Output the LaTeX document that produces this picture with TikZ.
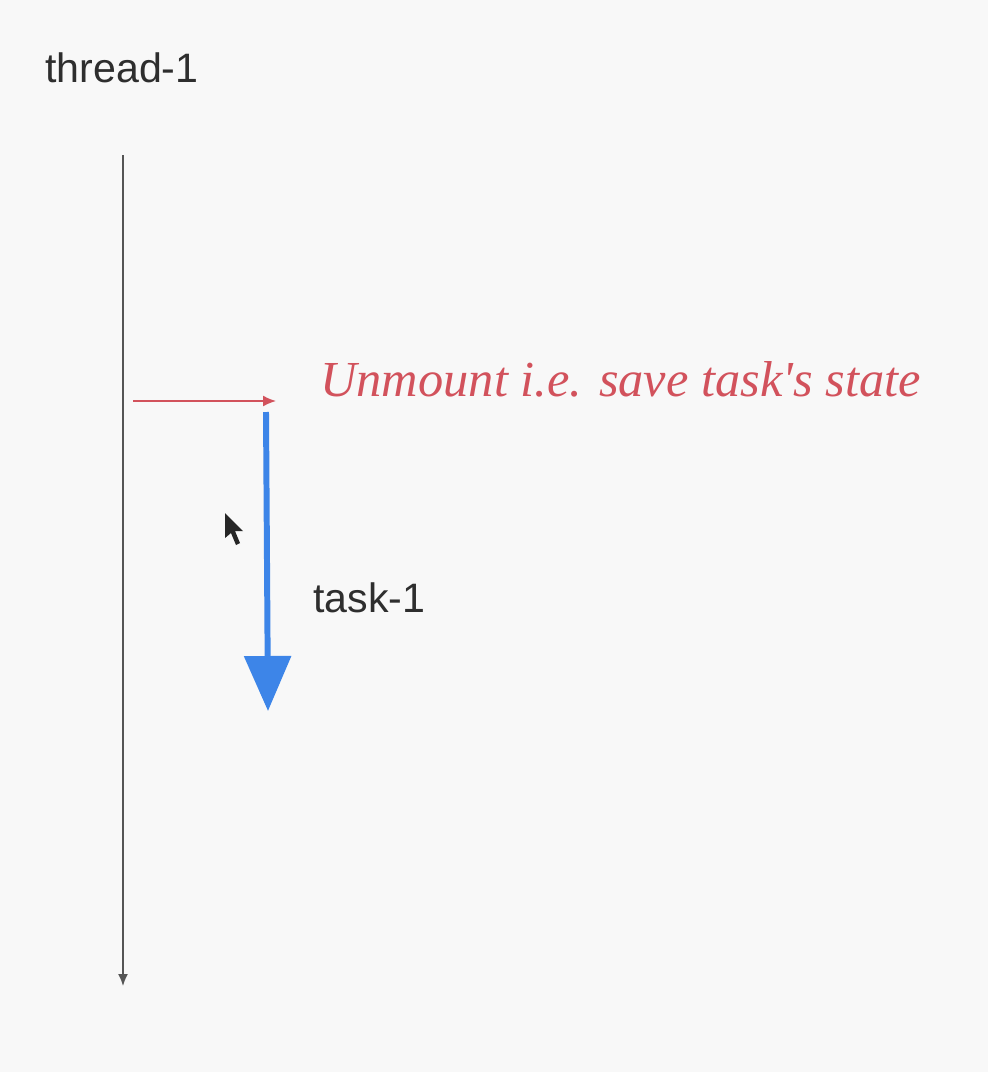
\documentclass[tikz,border=0pt]{standalone}
\usepackage{fontspec}
\setmainfont{Liberation Sans}
\newfontfamily\handfont{Liberation Serif}
\usetikzlibrary{arrows.meta}
\definecolor{bgcol}{HTML}{F8F8F8}
\definecolor{threadcol}{HTML}{555555}
\definecolor{notecol}{HTML}{D2525C}
\definecolor{taskcol}{HTML}{3D85E8}
\tikzset{
  lbl/.style={font=\fontsize{23.4}{27}\selectfont, text=black!82, inner sep=0pt},
  note/.style={font=\handfont\itshape\fontsize{28.7}{34}\selectfont, text=notecol, inner sep=0pt}
}
\begin{document}
\begin{tikzpicture}[x=0.02cm,y=-0.02cm]
	   \fill[bgcol](0,0)rectangle(988,1072);
	   \useasboundingbox(0,0)rectangle(988,1072);
	   \node[lbl,anchor=base west](thread)at(45,82){thread-1};
	   \coordinate(ttop)at(123,155);
	   \coordinate(tbot)at(123,986);
	   \draw[threadcol,line width=.9pt,-{Latex[length=.24cm,width=.2cm]}](ttop)--(tbot);
	   \coordinate(uleft)at(133,401);
	   \coordinate(uright)at(276,401);
	   \draw[notecol,line width=.9pt,-{Latex[length=.26cm,width=.22cm]}](uleft)--(uright);
	   \node[note,anchor=base west](unmount)at(320,396){Unmount i.e. save task's state};
	   \coordinate(ktop)at(266,412);
	   \coordinate(kbot)at(268,711);
	   \draw[taskcol,line width=3.4pt,-{Triangle[length=1.1cm,width=.92cm]}](ktop)--(kbot);
	   \node[lbl,anchor=base west](task)at(313,612){task-1};
	   % mouse pointer
	   \fill[black!85](225,513)--(225,538)--(231,533)--(236,545)--(240,543)--(235,531)--(243,531)--cycle;
	\end{tikzpicture}
\end{document}
